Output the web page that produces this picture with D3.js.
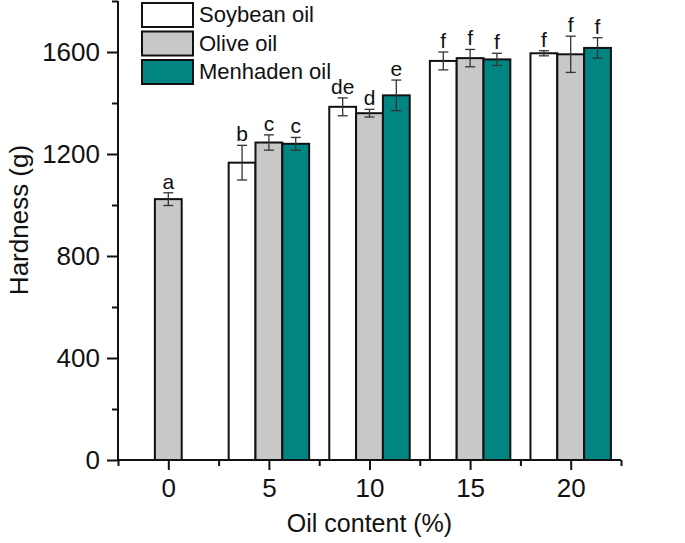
<!DOCTYPE html>
<html>
<head>
<meta charset="UTF-8">
<script src="https://d3js.org/d3.v7.min.js"></script>
<style>
  body { margin: 0; background: #fff; }
  svg { font-family: "Liberation Sans", Arial, sans-serif; }
</style>
</head>
<body>
<div id="chart"></div>
<script>
const oilContent = [0, 5, 10, 15, 20];
const seriesNames = ["Soybean oil", "Olive oil", "Menhaden oil"];
const seriesColors = ["#ffffff", "#c8c8c8", "#008583"];

// hardness means, null where no bar
const soybean = [null, 1166, 1385, 1565, 1595];
const olive = [1023, 1245, 1360, 1576, 1591];
const menhaden = [null, 1240, 1430, 1571, 1616];

// error bars (sd)
const soybeanErr = [null, 68, 35, 35, 10];
const oliveErr = [25, 30, 15, 34, 71];
const menhadenErr = [null, 25, 60, 24, 40];

// significance letters
const soybeanLbl = [null, "b", "de", "f", "f"];
const oliveLbl = ["a", "c", "d", "f", "f"];
const menhadenLbl = [null, "c", "e", "f", "f"];

const yTicks = [0, 400, 800, 1200, 1600];

const W = 685, H = 543;
const mLeft = 118, mRight = 621, mTop = 1, mBottom = 460;

const svg = d3.select("#chart").append("svg")
  .attr("width", W).attr("height", H);

const x = d3.scaleLinear().domain([-2.5, 22.5]).range([mLeft, mRight]);
const y = d3.scaleLinear().domain([0, 1800]).range([mBottom, mTop]);

const series = [
  { name: seriesNames[0], vals: soybean, err: soybeanErr, lbl: soybeanLbl, color: seriesColors[0], off: -1.333 },
  { name: seriesNames[1], vals: olive, err: oliveErr, lbl: oliveLbl, color: seriesColors[1], off: 0 },
  { name: seriesNames[2], vals: menhaden, err: menhadenErr, lbl: menhadenLbl, color: seriesColors[2], off: 1.333 }
];
const barW = x(1.333) - x(0);

series.forEach(s => {
  const pts = oilContent.map((c, i) => ({ c, v: s.vals[i], e: s.err[i], l: s.lbl[i] }))
    .filter(d => d.v !== null);
  const g = svg.append("g");

  g.selectAll("rect").data(pts).enter().append("rect")
    .attr("x", d => x(d.c + s.off) - barW / 2)
    .attr("y", d => y(d.v))
    .attr("width", barW)
    .attr("height", d => y(0) - y(d.v))
    .attr("fill", s.color)
    .attr("stroke", "#111")
    .attr("stroke-width", 2);

  // error bars
  const eb = g.selectAll(".eb").data(pts).enter().append("g").attr("class", "eb")
    .attr("stroke", "#333").attr("stroke-width", 1.3);
  eb.append("line")
    .attr("x1", d => x(d.c + s.off)).attr("x2", d => x(d.c + s.off))
    .attr("y1", d => y(d.v + d.e)).attr("y2", d => y(d.v - d.e));
  eb.append("line")
    .attr("x1", d => x(d.c + s.off) - 5).attr("x2", d => x(d.c + s.off) + 5)
    .attr("y1", d => y(d.v + d.e)).attr("y2", d => y(d.v + d.e));
  eb.append("line")
    .attr("x1", d => x(d.c + s.off) - 5).attr("x2", d => x(d.c + s.off) + 5)
    .attr("y1", d => y(d.v - d.e)).attr("y2", d => y(d.v - d.e));

  g.selectAll(".lbl").data(pts).enter().append("text")
    .attr("x", d => x(d.c + s.off))
    .attr("y", d => y(d.v + d.e) - 4)
    .attr("text-anchor", "middle")
    .attr("font-size", 21)
    .attr("fill", "#111")
    .text(d => d.l);
});

// y axis
const yAxis = svg.append("g").attr("transform", `translate(${mLeft},0)`)
  .call(d3.axisLeft(y).tickValues(yTicks).tickSize(11).tickPadding(7).tickFormat(d3.format("d")));
svg.append("g").attr("transform", `translate(${mLeft},0)`)
  .call(d3.axisLeft(y).tickValues([200, 600, 1000, 1400, 1800]).tickSize(6).tickFormat(""))
  .call(g => g.select(".domain").remove());

// x axis
const xAxis = svg.append("g").attr("transform", `translate(0,${mBottom})`)
  .call(d3.axisBottom(x).tickValues(oilContent).tickSize(10).tickPadding(9).tickFormat(d3.format("d")));
svg.append("g").attr("transform", `translate(0,${mBottom})`)
  .call(d3.axisBottom(x).tickValues([-2.5, 2.5, 7.5, 12.5, 17.5, 22.5]).tickSize(6).tickFormat(""))
  .call(g => g.select(".domain").remove());

svg.selectAll(".domain").attr("stroke", "#111").attr("stroke-width", 2);
svg.selectAll(".tick line").attr("stroke", "#111").attr("stroke-width", 2);
svg.selectAll(".tick text").attr("font-size", 26).attr("fill", "#111")
  .attr("font-family", "Liberation Sans, Arial, sans-serif");
yAxis.select(".domain").attr("d", `M0,${mBottom}V${mTop}`);
xAxis.select(".domain").attr("d", `M${mLeft},0H${mRight}`);

// axis titles
svg.append("text")
  .attr("x", (mLeft + mRight) / 2)
  .attr("y", 532)
  .attr("text-anchor", "middle")
  .attr("font-size", 25)
  .attr("fill", "#111")
  .text("Oil content (%)");

svg.append("text")
  .attr("transform", `translate(28,220) rotate(-90)`)
  .attr("text-anchor", "middle")
  .attr("font-size", 26)
  .attr("fill", "#111")
  .text("Hardness (g)");

// legend
const leg = svg.append("g").attr("transform", "translate(142,3)");
seriesNames.forEach((n, i) => {
  const row = leg.append("g").attr("transform", `translate(0,${i * 28.5})`);
  row.append("rect")
    .attr("width", 51).attr("height", 24)
    .attr("fill", seriesColors[i])
    .attr("stroke", "#111").attr("stroke-width", 2);
  row.append("text")
    .attr("x", 57).attr("y", 19)
    .attr("font-size", 22)
    .attr("fill", "#111")
    .text(n);
});
</script>
</body>
</html>
